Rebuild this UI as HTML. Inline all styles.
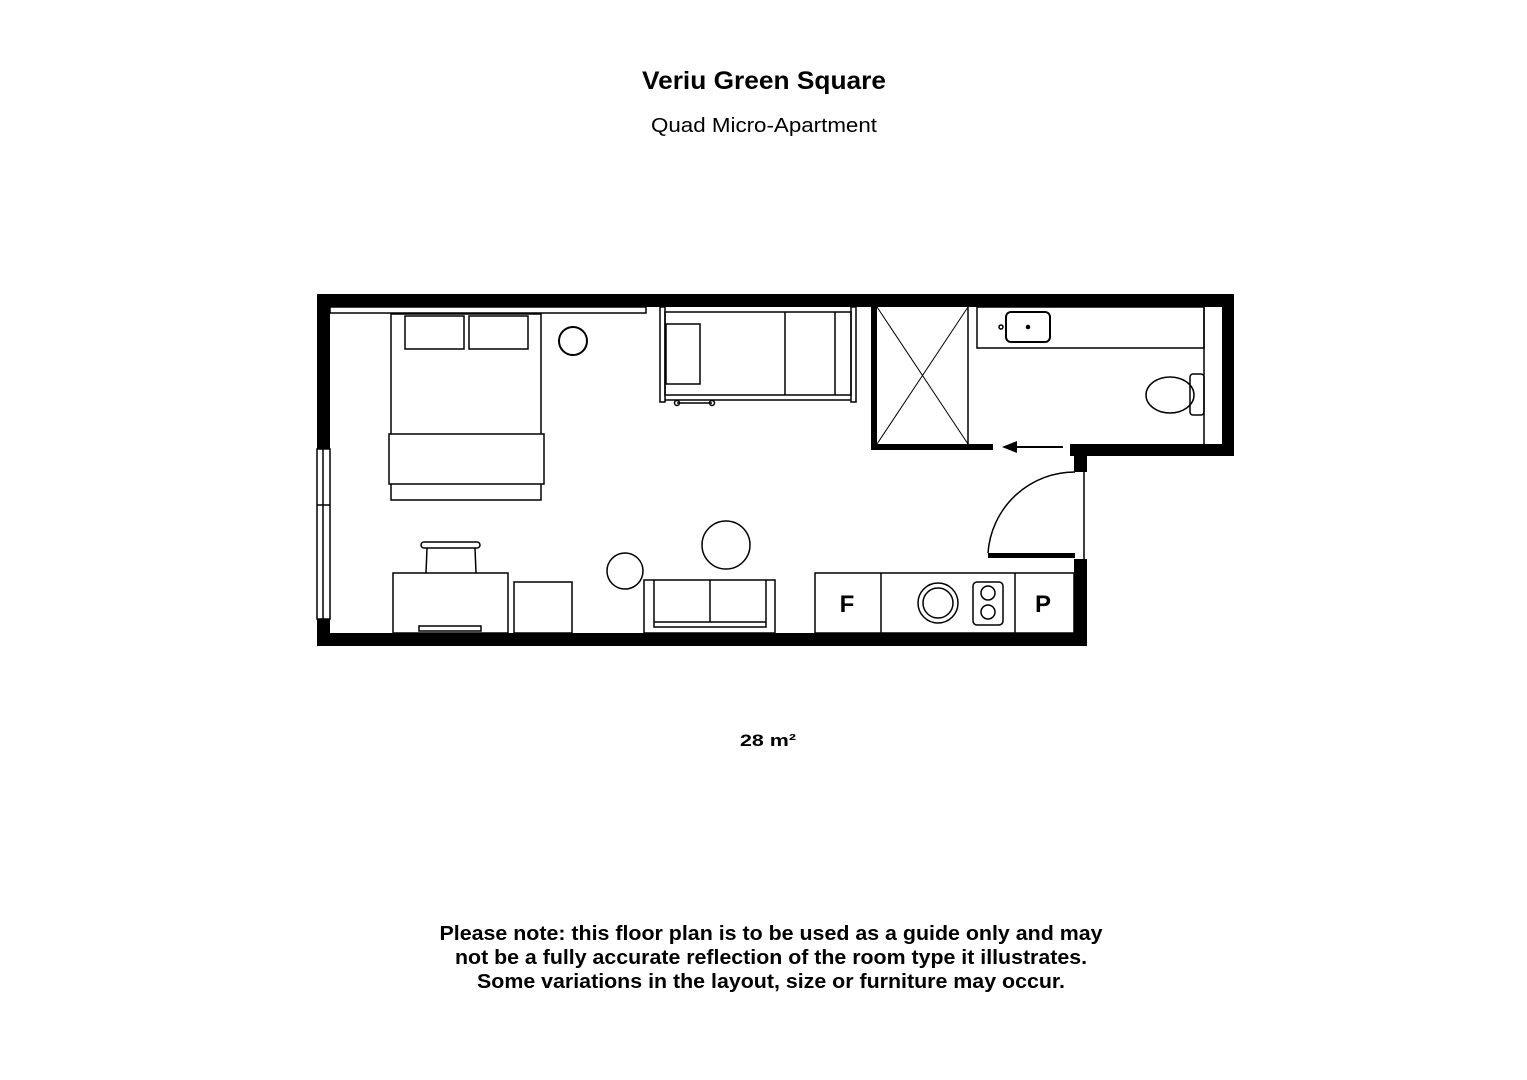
<!DOCTYPE html>
<html><head><meta charset="utf-8"><style>
html,body{margin:0;padding:0;background:#fff;}
svg{display:block;}
text{font-family:"Liberation Sans",Arial,sans-serif;fill:#000;}
</style></head><body>
<svg width="1527" height="1080" viewBox="0 0 1527 1080" xmlns="http://www.w3.org/2000/svg">
<rect width="1527" height="1080" fill="#fff"/>
<text x="764" y="89" text-anchor="middle" font-size="25" font-weight="bold" textLength="244" lengthAdjust="spacingAndGlyphs">Veriu Green Square</text>
<text x="764" y="132" text-anchor="middle" font-size="20" textLength="226" lengthAdjust="spacingAndGlyphs">Quad Micro-Apartment</text>
<text x="768" y="746" text-anchor="middle" font-size="17" font-weight="bold" textLength="56" lengthAdjust="spacingAndGlyphs">28  m²</text>
<text x="771" y="940" text-anchor="middle" font-size="20" font-weight="bold" textLength="663" lengthAdjust="spacingAndGlyphs">Please note: this floor plan is to be used as a guide only and may</text>
<text x="771" y="964" text-anchor="middle" font-size="20" font-weight="bold" textLength="632" lengthAdjust="spacingAndGlyphs">not be a fully accurate reflection of the room type it illustrates.</text>
<text x="771" y="988" text-anchor="middle" font-size="20" font-weight="bold" textLength="588" lengthAdjust="spacingAndGlyphs">Some variations in the layout, size or furniture may occur.</text>

<g fill="#000">
<!-- walls -->
<rect x="317" y="294" width="917" height="13"/>
<rect x="317" y="294" width="13" height="352"/>
<rect x="317" y="633" width="770" height="13"/>
<rect x="1222" y="294" width="12" height="162"/>
<rect x="1070" y="444" width="164" height="12"/>
<rect x="1074" y="444" width="13" height="28"/>
<rect x="1074" y="559" width="13" height="87"/>
<rect x="871" y="307" width="6" height="143"/>
<rect x="871" y="444" width="122" height="6"/>
<rect x="988" y="553" width="87" height="5"/>
</g>
<g fill="none" stroke="#000" stroke-width="1.5">
<!-- window -->
<rect x="317" y="449" width="13" height="170" fill="#fff"/>
<line x1="323" y1="449" x2="323" y2="619"/>
<line x1="317" y1="505" x2="330" y2="505"/>
<!-- shelf -->
<rect x="330" y="307" width="316" height="6" fill="#fff"/>
<!-- bed -->
<rect x="391" y="314" width="150" height="186"/>
<rect x="389" y="434" width="155" height="50" fill="#fff"/>
<rect x="405" y="316" width="59" height="33"/>
<rect x="469" y="316" width="59" height="33"/>
<circle cx="573" cy="341" r="14" stroke-width="2"/>
<!-- top unit -->
<rect x="660" y="307" width="5" height="95"/>
<rect x="851" y="307" width="5" height="95"/>
<rect x="665" y="312" width="186" height="83"/>
<line x1="665" y1="400" x2="851" y2="400"/>
<line x1="785" y1="312" x2="785" y2="395"/>
<line x1="835" y1="312" x2="835" y2="395"/>
<rect x="666" y="324" width="34" height="60"/>
<line x1="677" y1="403" x2="712" y2="403"/>
<circle cx="677" cy="403" r="2.5"/>
<circle cx="712" cy="403" r="2.5"/>
<!-- desk -->
<rect x="393" y="573" width="115" height="60"/>
<rect x="421" y="542" width="59" height="6" rx="3"/>
<path d="M427 548 L426 573 M475 548 L476 573"/>
<rect x="419" y="626" width="62" height="5"/>
<rect x="514" y="582" width="58" height="51"/>
<circle cx="625" cy="571" r="18"/>
<circle cx="726" cy="545" r="24"/>
<!-- sofa -->
<rect x="644" y="580" width="131" height="53"/>
<path d="M654 580 V627 H766 V580 M654 622 H766 M710 580 V622"/>
<!-- shower -->
<path d="M877 307 L968 444 M968 307 L877 444" stroke-width="1"/>
<line x1="968" y1="307" x2="968" y2="444"/>
<!-- vanity -->
<rect x="977" y="307" width="227" height="41"/>
<rect x="1006" y="312" width="44" height="30" rx="5" stroke-width="2"/>
<circle cx="1028" cy="327" r="1.5" fill="#000"/>
<circle cx="1001" cy="327" r="2"/>
<line x1="1204" y1="307" x2="1204" y2="444"/>
<!-- toilet -->
<ellipse cx="1170" cy="395" rx="24" ry="18"/>
<rect x="1190" y="374" width="14" height="41" rx="3"/>
<!-- arrow -->
<line x1="1063" y1="447" x2="1004" y2="447" stroke-width="2"/>
<path d="M1017 441 L1002 447 L1017 453" fill="#000" stroke="none"/>
<!-- door -->
<path d="M988 553 A87 87 0 0 1 1075 472"/>
<line x1="1084" y1="472" x2="1084" y2="559"/>
<!-- kitchen -->
<rect x="815" y="573" width="259" height="60"/>
<line x1="881" y1="573" x2="881" y2="633"/>
<line x1="1015" y1="573" x2="1015" y2="633"/>
<circle cx="938" cy="603" r="20"/>
<circle cx="938" cy="603" r="15"/>
<rect x="973" y="582" width="30" height="43" rx="4"/>
<circle cx="988" cy="593" r="7"/>
<circle cx="988" cy="612" r="7"/>
</g>
<text x="847" y="612" text-anchor="middle" font-size="24" font-weight="bold">F</text>
<text x="1043" y="612" text-anchor="middle" font-size="24" font-weight="bold">P</text>
</svg>
</body></html>
